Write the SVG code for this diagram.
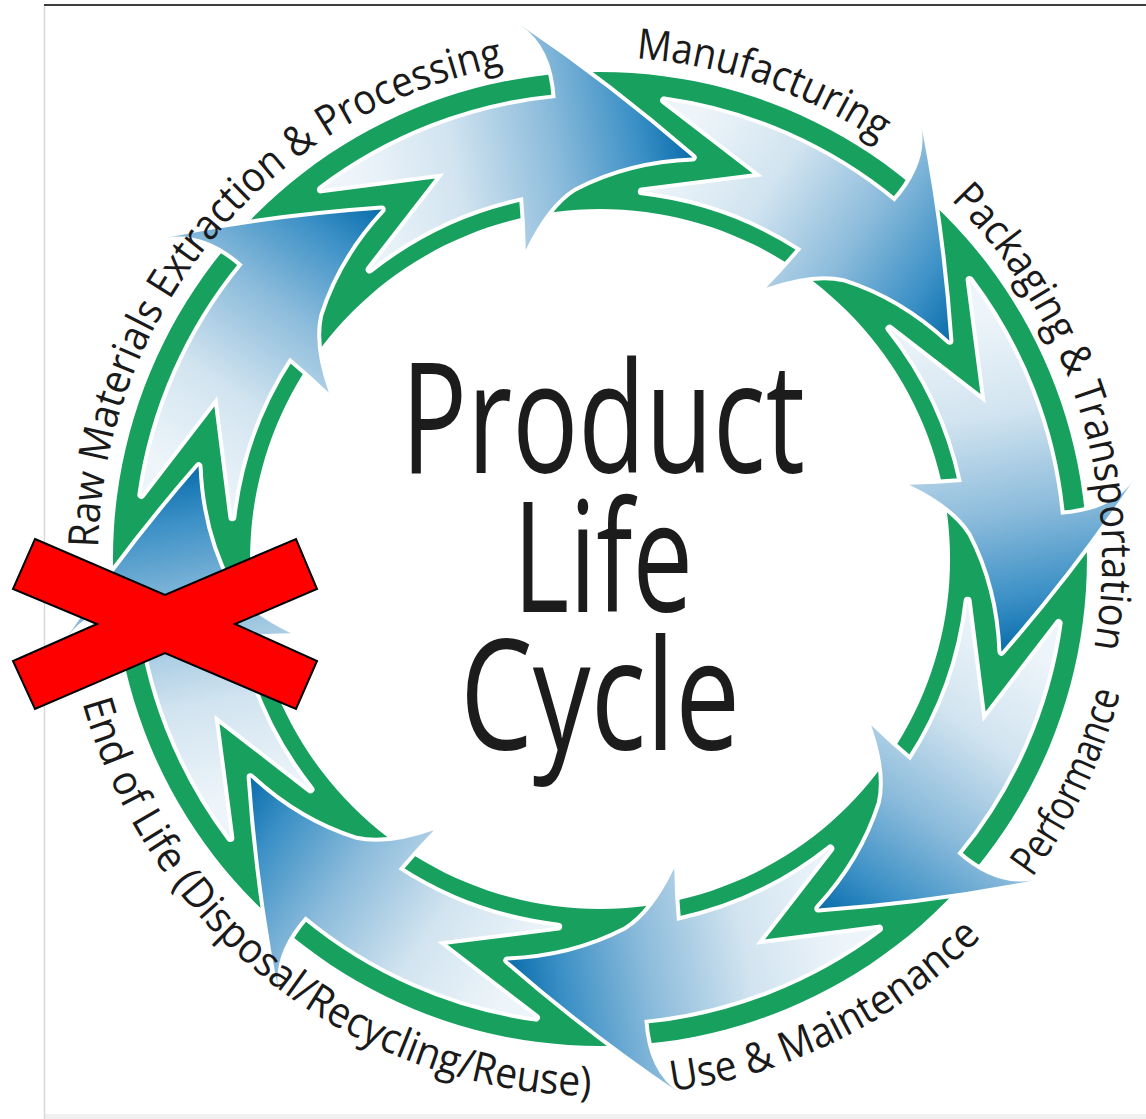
<svg xmlns="http://www.w3.org/2000/svg" width="1146" height="1119" viewBox="0 0 1146 1119">
  <defs>
    <!-- shading runs from the tail (light) to the arrow tip (dark) -->
    <linearGradient id="arrowFill" gradientUnits="userSpaceOnUse" x1="-309" y1="-278" x2="0" y2="-412">
      <stop offset="0" stop-color="#eef5fa"/>
      <stop offset="0.3" stop-color="#d2e4f0"/>
      <stop offset="0.6" stop-color="#8bbbdb"/>
      <stop offset="0.85" stop-color="#3b90c6"/>
      <stop offset="1" stop-color="#0a6dab"/>
    </linearGradient>
    <!-- one curved arrow, centre of the cycle at the origin, tip pointing straight up;
         the tail notch is shaped to receive the head of the previous arrow -->
    <path id="arrowShape" class="arrow" d="M -355 -297.4 A 463 463 0 0 1 -146.9 -439.1 Q -161.7 -488.9 -197.9 -502.4 Q -96.2 -463.2 0 -412 Q -62.6 -395.1 -108.8 -355.7 Q -131.2 -333.1 -141.9 -284.6 Q -148.5 -311.4 -156.4 -335.3 A 370 370 0 0 0 -289.6 -230.3 L -238.5 -340.8 Z"/>
    <!-- baselines for the stage labels -->
    <path id="p1" d="M 98.1 547.6 A 502 502 0 0 1 556.2 58.9"/>
    <path id="p2" d="M 635.9 58.3 A 502 502 0 0 1 922.7 174.5"/>
    <path id="p3" d="M 950.6 199.7 A 502 502 0 0 1 1082.6 697.4"/>
    <path id="p4" d="M 1032.2 877.7 A 537 537 0 0 0 1131.8 633.7"/>
    <path id="p5" d="M 672.0 1091.2 A 537 537 0 0 0 1023.2 889.6"/>
    <path id="p6" d="M 82.5 702.5 A 537 537 0 0 0 637.5 1094.7"/>
  </defs>
  <style>
    .arrow { fill: url(#arrowFill); stroke: #ffffff; stroke-width: 8; stroke-linejoin: round; paint-order: stroke; }
    .ring { fill: #17a05e; fill-rule: evenodd; }
    .label { font-family: "Open Sans", "Noto Sans", "Liberation Sans", sans-serif; font-size: 42px; fill: #1a1a1a; }
    .title { font-family: "Open Sans", "Noto Sans", "Liberation Sans", sans-serif; font-size: 154px; fill: #1c1c1c; text-anchor: middle; }
    .cross { fill: #ff0000; stroke: #000000; stroke-width: 2; stroke-linejoin: miter; }
  </style>

  <rect x="0" y="0" width="1146" height="1119" fill="#ffffff"/>
  <!-- page frame -->
  <rect x="45" y="1114" width="1101" height="5" fill="#f1f1f1"/>
  <line x1="44.5" y1="5" x2="44.5" y2="1119" stroke="#d9d9d9" stroke-width="1.5"/>
  <line x1="44" y1="5" x2="1146" y2="5" stroke="#3d3d3d" stroke-width="2"/>

  <!-- green band behind the arrows -->
  <path class="ring" d="M 600 72 A 487 487 0 1 1 599.9 72 Z M 600 209 A 350 350 0 1 0 600.1 209 Z"/>

  <!-- the eight arrows of the cycle -->
  <g id="connectors">
    <use href="#arrowShape" transform="translate(600 559) rotate(13)"/>
    <use href="#arrowShape" transform="translate(600 559) rotate(58)"/>
    <use href="#arrowShape" transform="translate(600 559) rotate(103)"/>
    <use href="#arrowShape" transform="translate(600 559) rotate(148)"/>
    <use href="#arrowShape" transform="translate(600 559) rotate(193)"/>
    <use href="#arrowShape" transform="translate(600 559) rotate(238)"/>
    <use href="#arrowShape" transform="translate(600 559) rotate(283)"/>
    <use href="#arrowShape" transform="translate(600 559) rotate(328)"/>
  </g>

  <!-- stage labels around the ring -->
  <g id="stage-raw-materials">
    <text class="label"><textPath href="#p1" textLength="680" lengthAdjust="spacingAndGlyphs">Raw Materials Extraction &amp; Processing</textPath></text>
  </g>
  <g id="stage-manufacturing">
    <text class="label"><textPath href="#p2" textLength="260" lengthAdjust="spacingAndGlyphs">Manufacturing</textPath></text>
  </g>
  <g id="stage-packaging">
    <text class="label"><textPath href="#p3" textLength="490" lengthAdjust="spacingAndGlyphs">Packaging &amp; Transportation</textPath></text>
  </g>
  <g id="stage-performance">
    <text class="label"><textPath href="#p4" textLength="206" lengthAdjust="spacingAndGlyphs">Performance</textPath></text>
  </g>
  <g id="stage-use">
    <text class="label"><textPath href="#p5" textLength="352" lengthAdjust="spacingAndGlyphs">Use &amp; Maintenance</textPath></text>
  </g>
  <g id="stage-end-of-life">
    <text class="label"><textPath href="#p6" textLength="689" lengthAdjust="spacingAndGlyphs">End of Life (Disposal/Recycling/Reuse)</textPath></text>
  </g>

  <!-- centre title -->
  <g id="title">
    <text class="title" x="603" y="473" textLength="404" lengthAdjust="spacingAndGlyphs">Product</text>
    <text class="title" x="603" y="612" textLength="180" lengthAdjust="spacingAndGlyphs">Life</text>
    <text class="title" x="600" y="750" textLength="280" lengthAdjust="spacingAndGlyphs">Cycle</text>
  </g>

  <!-- red cross over the left side -->
  <g id="cross">
    <polygon class="cross" points="35,539 165,595 296,539 317,589 235,624 317,661 296,709 165,653 35,709 13,661 97,624 13,589"/>
  </g>
</svg>
